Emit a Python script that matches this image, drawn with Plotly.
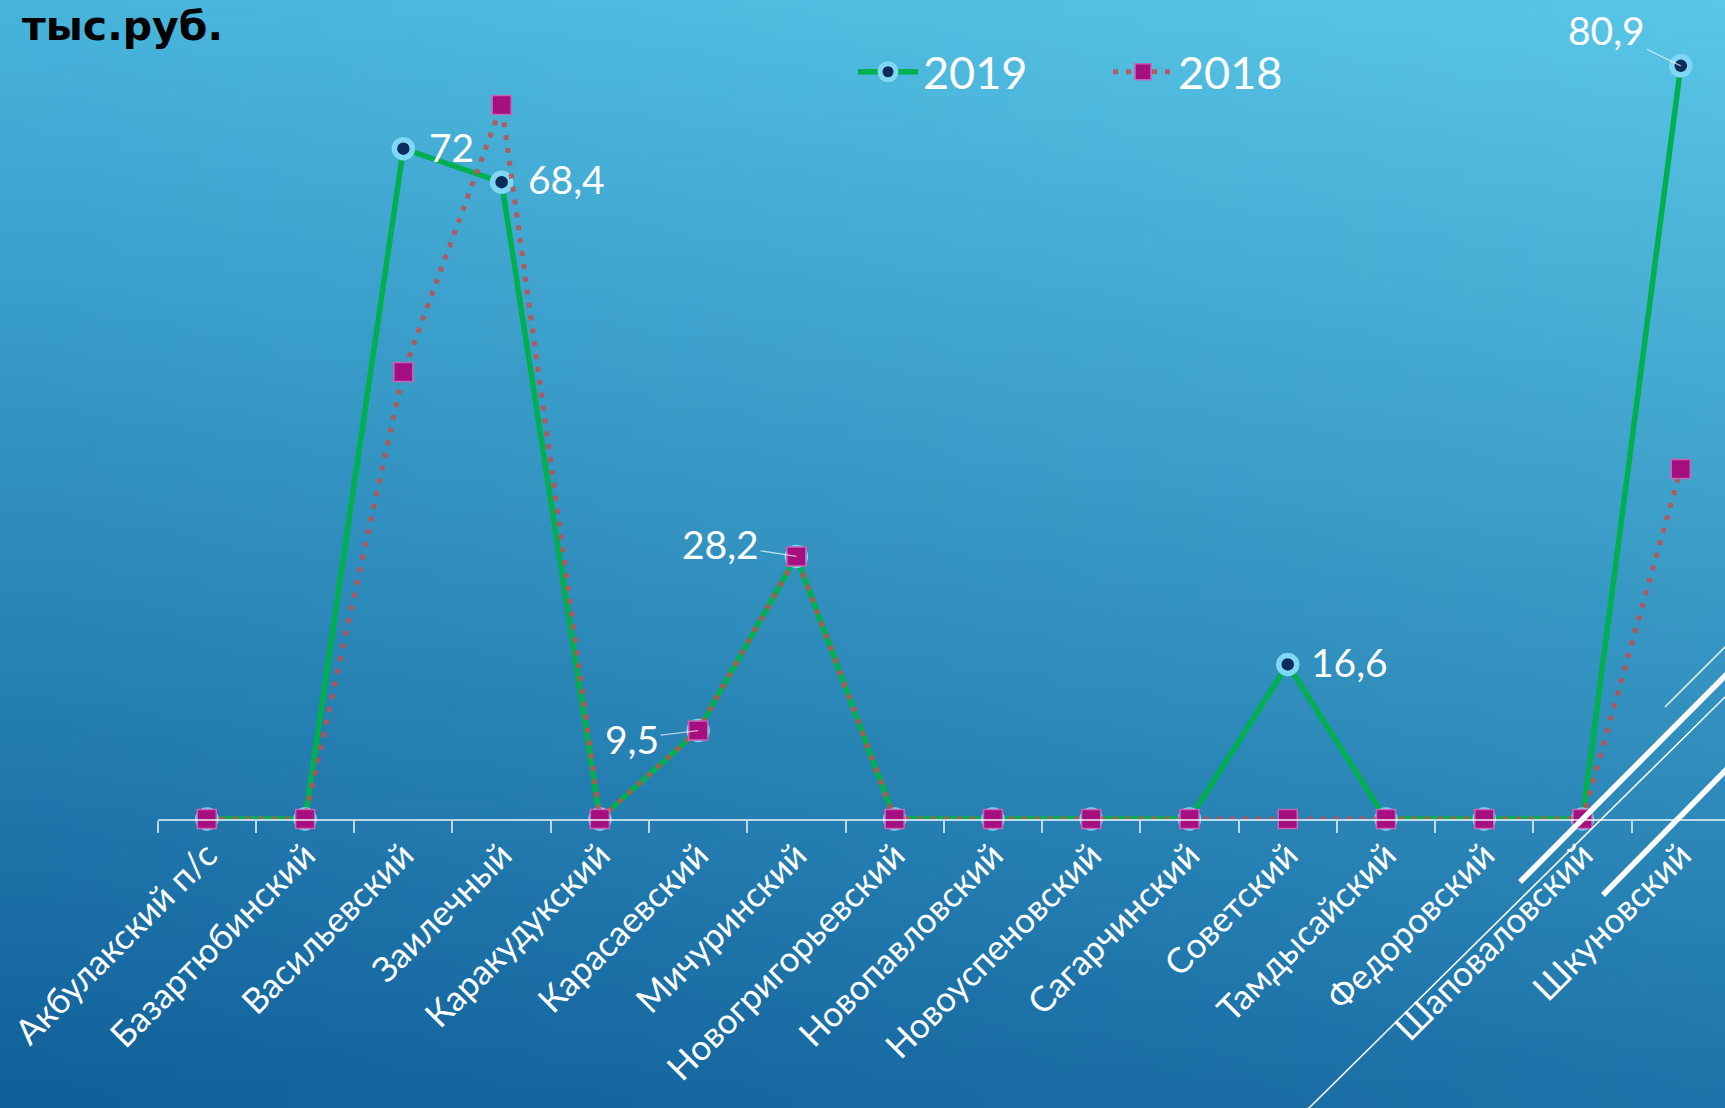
import plotly.graph_objects as go
import numpy as np
import zlib, struct, base64

# ---------------- data ----------------
categories = ["Акбулакский п/с", "Базартюбинский", "Васильевский", "Заилечный",
              "Каракудукский", "Карасаевский", "Мичуринский", "Новогригорьевский",
              "Новопавловский", "Новоуспеновский", "Сагарчинский", "Советский",
              "Тамдысайский", "Федоровский", "Шаповаловский", "Шкуновский"]
v2019 = [0, 0, 72, 68.4, 0, 9.5, 28.2, 0, 0, 0, 0, 16.6, 0, 0, 0, 80.9]
v2018 = [0, 0, 48, 76.7, 0, 9.5, 28.2, 0, 0, 0, 0, 0, 0, 0, 0, 37.6]
unit_label = "тыс.руб."

# label placement (index into 2019 series, offsets in px, leader line?)
label_spec = [(2, 48, -2, False), (3, 65, -3, False), (11, 62, -2, False),
              (15, -74, -36, True), (6, -76, -12, True), (5, -66, 8, True)]

W, H = 1725, 1108

# ---------------- background gradient (PNG data URI) ----------------
def gradient_png(w=64, h=64):
    tl = np.array([72, 180, 220], float)
    tr = np.array([90, 199, 231], float)
    bl = np.array([17, 96, 154], float)
    br = np.array([30, 116, 170], float)
    ys = np.linspace(0, 1, h)[:, None, None]
    xs = np.linspace(0, 1, w)[None, :, None]
    top = tl * (1 - xs) + tr * xs
    bot = bl * (1 - xs) + br * xs
    img = (top * (1 - ys) + bot * ys).clip(0, 255).astype(np.uint8)
    raw = b"".join(b"\x00" + img[r].tobytes() for r in range(h))
    def chunk(t, d):
        c = struct.pack(">I", len(d)) + t + d
        return c + struct.pack(">I", zlib.crc32(t + d) & 0xffffffff)
    png = b"\x89PNG\r\n\x1a\n" + chunk(b"IHDR", struct.pack(">IIBBBBB", w, h, 8, 2, 0, 0, 0)) \
        + chunk(b"IDAT", zlib.compress(raw, 9)) + chunk(b"IEND", b"")
    return "data:image/png;base64," + base64.b64encode(png).decode()

FONT = "Lato"

fig = go.Figure()
fig.add_trace(go.Scatter(
    x=categories, y=v2019, name="2019", mode="lines+markers",
    line=dict(color="#00B050", width=5.5),
    marker=dict(symbol="circle", size=18, color="#0B2D5C",
                line=dict(color="#7FD7F3", width=5.5)),
    cliponaxis=False, hoverinfo="skip",
))
fig.add_trace(go.Scatter(
    x=categories, y=v2018, name="2018", mode="lines+markers",
    line=dict(color="rgba(192,80,77,0.85)", width=5, dash="5px,8px"),
    marker=dict(symbol="square", size=19, color="#A50F80",
                line=dict(color="#C866B6", width=1.5)),
    cliponaxis=False, hoverinfo="skip",
))

annotations = []
for idx, dx, dy, leader in label_spec:
    txt = f"{v2019[idx]:g}".replace(".", ",")
    if leader:
        annotations.append(dict(x=categories[idx], y=v2019[idx], xref="x", yref="y",
                                text=txt, showarrow=True, arrowhead=0, arrowwidth=1.3,
                                arrowcolor="rgba(255,255,255,0.65)", ax=dx, ay=dy,
                                standoff=0, font=dict(family=FONT, size=39, color="white")))
    else:
        annotations.append(dict(x=categories[idx], y=v2019[idx], xref="x", yref="y",
                                text=txt, showarrow=False, xshift=dx, yshift=-dy,
                                font=dict(family=FONT, size=39, color="white")))

annotations.append(dict(x=20 / W, y=1 - 0 / H, xref="paper", yref="paper",
                        xanchor="left", yanchor="top", text=f"<b>{unit_label}</b>",
                        showarrow=False,
                        font=dict(family="DejaVu Sans", size=41, color="black")))

def L(x0, y0, x1, y1, w):
    return dict(type="line", xref="paper", yref="paper", layer="above",
                x0=x0 / W, y0=1 - y0 / H, x1=x1 / W, y1=1 - y1 / H,
                line=dict(color="white", width=w))

shapes = [L(1307, 1110, 1727, 695, 1.5), L(1520, 882, 1727, 674, 5.5),
          L(1603, 895, 1727, 769, 5.5), L(1665, 707, 1727, 645, 1.5)]

fig.update_layout(
    width=W, height=H,
    margin=dict(l=0, r=0, t=0, b=0, pad=0),
    paper_bgcolor="#2A86B8", plot_bgcolor="rgba(0,0,0,0)",
    images=[dict(source=gradient_png(), xref="paper", yref="paper", x=0, y=1,
                 sizex=1, sizey=1, sizing="stretch", xanchor="left", yanchor="top",
                 layer="below")],
    xaxis=dict(domain=[157.7 / W, 1], range=[-0.5, 15.45], type="category",
               showgrid=False, zeroline=False, showline=True,
               linecolor="rgba(255,255,255,0.7)", linewidth=1.5,
               ticks="outside", tickson="boundaries", ticklen=12,
               tickcolor="rgba(255,255,255,0.7)", tickwidth=1.5,
               tickangle=-45, tickfont=dict(family=FONT, size=35, color="white"),
               automargin=False, fixedrange=True),
    yaxis=dict(domain=[1 - 819 / H, 1 - 10 / H], range=[0, (819 - 10) / 9.31],
               visible=False, automargin=False, fixedrange=True),
    legend=dict(orientation="h", x=853 / W, y=1 - 36 / H, xanchor="left", yanchor="top",
                font=dict(family=FONT, size=45, color="white"),
                bgcolor="rgba(0,0,0,0)", entrywidth=180, entrywidthmode="pixels",
                itemwidth=60),
    annotations=annotations,
    shapes=shapes,
    showlegend=True,
    hovermode=False,
)

fig.write_html("out.html", config={"displayModeBar": False},
               post_script="document.body.style.margin='0';")
